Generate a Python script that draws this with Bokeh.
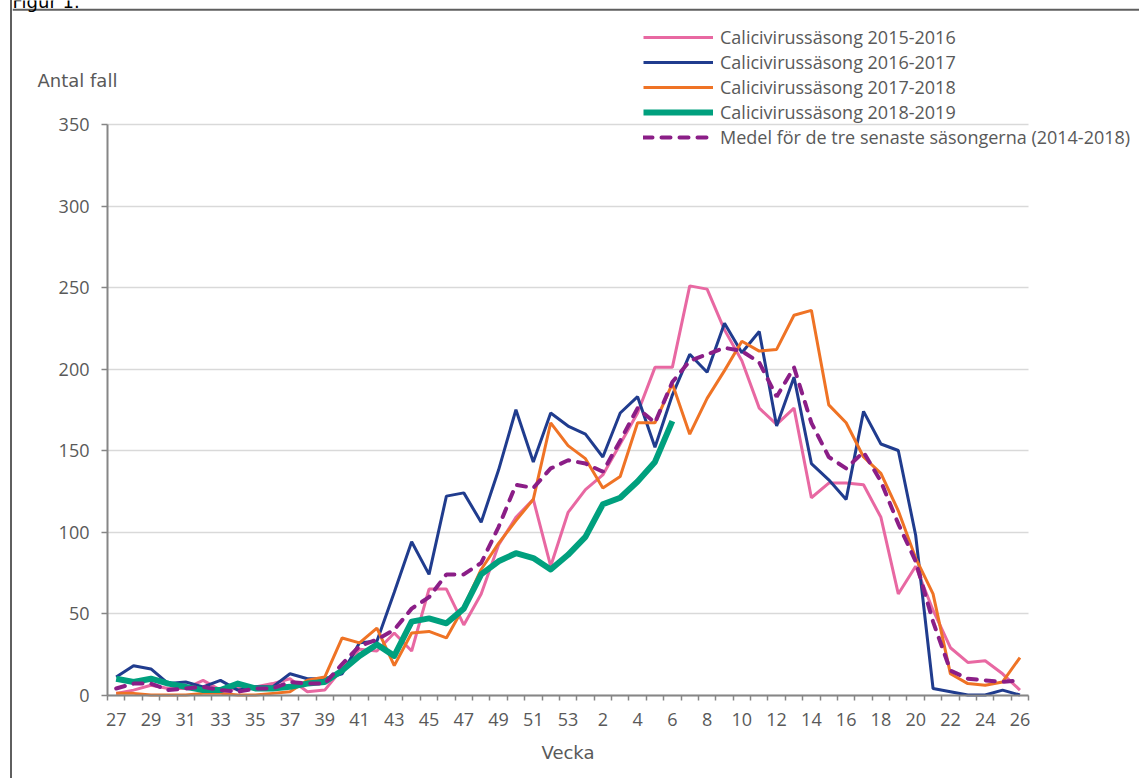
from bokeh.plotting import figure
from bokeh.models import Range1d, FixedTicker, Legend, LegendItem, Label, Span
from bokeh.embed import file_html
from bokeh.resources import INLINE

# ---------------- data ----------------
weeks = list(range(27, 54)) + list(range(1, 27))

season_2015_2016 = [1, 3, 6, 4, 4, 9, 3, 4, 5, 7, 10, 2, 3, 16, 28, 27, 38, 27, 65, 65,
                    43, 62, 92, 109, 120, 79, 112, 126, 135, 154, 173, 201, 201, 251, 249,
                    224, 205, 176, 166, 176, 121, 130, 130, 129, 109, 62, 79, 52, 29, 20,
                    21, 13, 3]
season_2016_2017 = [11, 18, 16, 7, 8, 5, 9, 3, 5, 5, 13, 10, 10, 13, 32, 33, 63, 94, 74, 122,
                    124, 106, 138, 175, 143, 173, 165, 160, 146, 173, 183, 152, 184, 209, 198,
                    228, 210, 223, 165, 195, 142, 132, 120, 174, 154, 150, 98, 4, 2, 0,
                    0, 3, 0]
season_2017_2018 = [1, 1, 0, 0, 0, 1, 1, 0, 0, 1, 2, 9, 11, 35, 32, 41, 18, 38, 39, 35,
                    54, 77, 93, 107, 120, 167, 153, 145, 127, 134, 167, 167, 191, 160, 182,
                    199, 217, 211, 212, 233, 236, 178, 167, 146, 136, 113, 84, 62, 13, 7,
                    6, 8, 23]
season_2018_2019 = [10, 8, 10, 7, 5, 3, 3, 7, 4, 4, 5, 7, 8, 15, 24, 31, 24, 45, 47, 44,
                    53, 74, 82, 87, 84, 77, 86, 97, 117, 121, 131, 143, 168]
mean_3_seasons = [4, 7, 7, 3, 4, 5, 3, 2, 4, 4, 8, 7, 7, 19, 30, 34, 40, 53, 60, 74,
                  74, 81, 103, 129, 127, 139, 144, 142, 137, 156, 176, 167, 192, 205, 209,
                  213, 211, 204, 183, 201, 167, 146, 139, 149, 131, 105, 82, 45, 15, 10,
                  9, 8, 9]

legend_labels = ["Calicivirussäsong 2015-2016", "Calicivirussäsong 2016-2017",
                 "Calicivirussäsong 2017-2018", "Calicivirussäsong 2018-2019",
                 "Medel för de tre senaste säsongerna (2014-2018)"]
y_ticks = [0, 50, 100, 150, 200, 250, 300, 350]

# ---------------- figure ----------------
FONT = "Open Sans"
TFONT = "DejaVu Sans"
TXT = "#595959"
AX = "#868686"
BORDER = "#5f5f5f"

n = len(weeks)
x_idx = list(range(n))
x_lo, x_hi = -0.5, n - 0.5
y_lo, y_hi = 0, 350

# The plotting frame fills the whole canvas so that the legend and the
# labels (which reach outside the axes area) are not clipped; the axes are
# pinned at the data edges of the chart area.
W, H = 1129, 778
px_per_x = 17.38
px_per_y = 1.63
left_px, bottom_px = 95, 83.5     # axes corner distance from canvas left / bottom
top_border_px = 9.25              # figure frame line, from canvas top

p = figure(width=W, height=H, output_backend="svg", toolbar_location=None,
           x_range=Range1d(x_lo - left_px / px_per_x, x_lo + (W - left_px) / px_per_x),
           y_range=Range1d(y_lo - bottom_px / px_per_y, y_lo + (H - bottom_px) / px_per_y),
           min_border=0, min_border_left=0, min_border_right=0,
           min_border_top=0, min_border_bottom=0)
p.styles = {"border-left": "2px solid " + BORDER, "margin-left": "10px"}
p.outline_line_color = None
p.background_fill_color = "white"
p.border_fill_color = "white"

# top frame line of the figure box
p.add_layout(Span(location=y_lo + (H - bottom_px - top_border_px) / px_per_y,
                  dimension="width", line_color=BORDER, line_width=2))

# grid
p.xgrid.grid_line_color = None
p.ygrid.grid_line_color = "#d9d9d9"
p.ygrid.grid_line_width = 1.5
p.ygrid.bounds = (y_lo, y_hi)
p.ygrid.cross_bounds = (x_lo, x_hi)

# x axis
p.xaxis.fixed_location = y_lo
p.xaxis.bounds = (x_lo, x_hi)
p.xaxis.ticker = FixedTicker(ticks=list(range(0, n, 2)),
                             minor_ticks=[k - 0.5 for k in range(n + 1)])
p.xaxis.major_label_overrides = {i: str(w) for i, w in enumerate(weeks)}
p.xaxis.major_tick_line_color = None
p.xaxis.minor_tick_line_color = AX
p.xaxis.minor_tick_line_width = 1.5
p.xaxis.minor_tick_out = 5
p.xaxis.minor_tick_in = 0
p.xaxis.axis_line_color = AX
p.xaxis.axis_line_width = 2
p.xaxis.major_label_standoff = 12
p.xaxis.major_label_text_font = FONT
p.xaxis.major_label_text_font_size = "18px"
p.xaxis.major_label_text_color = TXT
p.xaxis.axis_label = "Vecka"
p.xaxis.axis_label_text_font = TFONT
p.xaxis.axis_label_text_font_size = "18px"
p.xaxis.axis_label_text_font_style = "normal"
p.xaxis.axis_label_text_color = TXT
p.xaxis.axis_label_standoff = 12

# y axis
p.yaxis.fixed_location = x_lo
p.yaxis.bounds = (y_lo, y_hi)
p.yaxis.ticker = FixedTicker(ticks=y_ticks, minor_ticks=[])
p.yaxis.major_tick_out = 6
p.yaxis.major_tick_in = 0
p.yaxis.major_tick_line_color = AX
p.yaxis.major_tick_line_width = 1.5
p.yaxis.minor_tick_line_color = None
p.yaxis.axis_line_color = AX
p.yaxis.axis_line_width = 2
p.yaxis.major_label_standoff = 12
p.yaxis.major_label_text_font = FONT
p.yaxis.major_label_text_font_size = "18px"
p.yaxis.major_label_text_color = TXT

# lines
r1 = p.line(x_idx, season_2015_2016, line_color="#E868A2", line_width=3)
r2 = p.line(x_idx, season_2016_2017, line_color="#203C8E", line_width=3)
r3 = p.line(x_idx, season_2017_2018, line_color="#EF7325", line_width=3)
r4 = p.line(x_idx[:len(season_2018_2019)], season_2018_2019, line_color="#00A07E",
            line_width=6, line_join="round")
r5 = p.line(x_idx, mean_3_seasons, line_color="#8B1E87", line_width=4,
            line_dash="9 9", line_cap="round")

legend = Legend(items=[LegendItem(label=lab, renderers=[r])
                       for lab, r in zip(legend_labels, [r1, r2, r3, r4, r5])],
                location=(631, 629), orientation="vertical")
legend.glyph_width = 70
legend.glyph_height = 20
legend.label_height = 20
legend.label_standoff = 7
legend.spacing = 1
legend.padding = 0
legend.margin = 0
legend.border_line_color = None
legend.background_fill_alpha = 0
legend.label_text_font = FONT
legend.label_text_font_size = "18px"
legend.label_text_color = TXT
p.add_layout(legend, "center")

p.add_layout(Label(x=25, y=H - 80, x_units="screen", y_units="screen",
                   text="Antal fall", text_font=TFONT, text_font_size="18px",
                   text_color=TXT, text_baseline="middle"))

# figure caption above the box (only its lower edge lies inside the page)
p.add_layout(Label(x=0, y=H - 1, x_units="screen", y_units="screen",
                   text="Figur 1.", text_font=TFONT, text_font_size="18px",
                   text_color="#000000", text_baseline="alphabetic"))

open("out.html", "w").write(file_html(p, INLINE))
